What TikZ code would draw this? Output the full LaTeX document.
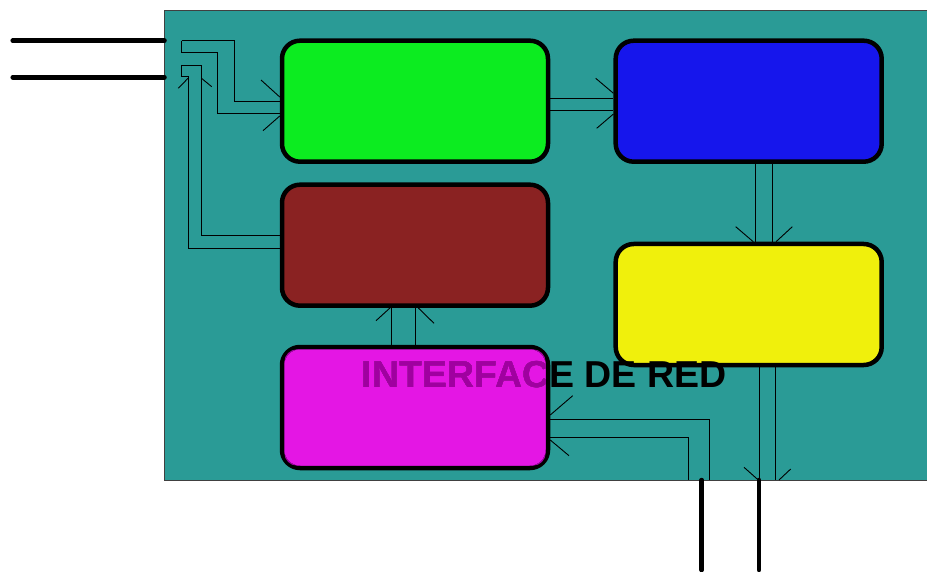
\documentclass[tikz,border=0pt]{standalone}
\usepackage{fontspec}
\newfontfamily\netfont{Liberation Sans}
\usetikzlibrary{calc}

\definecolor{netbg}{RGB}{42,155,150}
\definecolor{netgreen}{RGB}{12,236,32}
\definecolor{netblue}{RGB}{22,22,236}
\definecolor{netbrown}{RGB}{138,34,34}
\definecolor{netyellow}{RGB}{240,240,12}
\definecolor{netmagenta}{RGB}{228,22,228}
\definecolor{netpurple}{RGB}{160,0,160}

\begin{document}
\begin{tikzpicture}[x=1pt,y=-1pt,
    box/.style={draw=black, line width=4.5pt, rounded corners=18pt,
      minimum width=266pt, minimum height=121pt, inner sep=0pt},
    bus/.style={black, line width=0.9pt},
    barb/.style={black, line width=0.9pt},
    feed/.style={black, line width=4.5pt, line cap=round}]
      \useasboundingbox (0,0) rectangle (927,572);

      % tarjeta
      \fill [netbg] (164.5,10) rectangle (930,480);
      \draw [black!75, line width=0.8pt] (930,10) -- (164.5,10) -- (164.5,480) -- (930,480);

      % bloques
      \node [box, fill=netgreen] (green) at (415,101.2) {};
      \node [box, fill=netblue] (blue) at (748.7,101.2) {};
      \node [box, fill=netbrown] (brown) at (415,245.2) {};
      \node [box, fill=netyellow] (yellow) at (748.7,304.5) {};
      \node [box, fill=netmagenta] (magenta) at (415,407.5) {};

      % puertos
      \coordinate (portA) at (181.7,40.7);
      \coordinate (portB) at (181.7,65);
      \coordinate (in1) at (164.5,40.7);
      \coordinate (in2) at (164.5,77.3);
      \coordinate (out1) at (701.7,480);
      \coordinate (out2) at (759,480);

      % entrada -> verde
      \draw [bus] (portA) -- (234,40.7) -- (234,101) -- (green.west |- 0,101);
      \draw [bus] (portA) -- (181.7,52.3) -- (217.3,52.3) -- (217.3,113.7) -- (green.west |- 0,113.7);
      \draw [barb] (261,80) -- (green.west |- 0,97);
      \draw [barb] (263,130.7) -- (green.west |- 0,116);

      % marron -> entrada
      \draw [bus] (portB) -- (201.5,65) -- (201.5,235.7) -- (brown.west |- 0,235.7);
      \draw [bus] (portB) -- (181.7,76.7) -- (188,76.7) -- (188,248.3) -- (brown.west |- 0,248.3);
      \draw [barb] (178.3,88.3) -- (188,78.3);
      \draw [barb] (211.7,86.7) -- (201.5,78.3);

      % verde -> azul
      \draw [bus] (green.east |- 0,98.3) -- (blue.west |- 0,98.3);
      \draw [bus] (green.east |- 0,110.7) -- (blue.west |- 0,110.7);
      \draw [barb] (595.7,78.3) -- (blue.west |- 0,93.3);
      \draw [barb] (596.7,128.3) -- (blue.west |- 0,114);

      % azul -> amarillo
      \draw [bus] (blue.south -| 755.7,0) -- (yellow.north -| 755.7,0);
      \draw [bus] (blue.south -| 772.3,0) -- (yellow.north -| 772.3,0);
      \draw [barb] (735.7,226.7) -- (yellow.north -| 753.3,0);
      \draw [barb] (792.3,226.7) -- (yellow.north -| 776,0);

      % magenta -> marron
      \draw [bus] (brown.south -| 391.7,0) -- (magenta.north -| 391.7,0);
      \draw [bus] (brown.south -| 415,0) -- (magenta.north -| 415,0);
      \draw [barb] (376,320.7) -- (brown.south -| 390,0);
      \draw [barb] (434,323.3) -- (brown.south -| 418.3,0);

      % salida -> magenta
      \draw [bus] (magenta.east |- 0,419.3) -- (709,419.3) -- (709,480);
      \draw [bus] (magenta.east |- 0,437.3) -- (688.3,437.3) -- (688.3,480);
      \draw [barb] (572.7,395.7) -- (magenta.east |- 0,415);
      \draw [barb] (569,455.7) -- (magenta.east |- 0,440);

      % amarillo -> salida
      \draw [bus] (yellow.south -| 759,0) -- (759,480);
      \draw [bus] (yellow.south -| 775.7,0) -- (775.7,480);
      \draw [barb] (744,467.3) -- (758.3,480);
      \draw [barb] (790.7,469) -- (779,480);

      % cables
      \draw [feed] (12.7,40.7) -- (in1);
      \draw [feed] (12.7,77.3) -- (in2);
      \draw [feed] (out1) -- (701.7,570);
      \draw [feed] (out2) -- (759,570);

      \node [font=\netfont\bfseries\fontsize{37.5}{40}\selectfont, anchor=base, inner sep=0pt]
        (title) at (544.2,387) {INTERFACE DE RED};

      % texto visto a traves del bloque magenta
      \begin{scope}[blend mode=lighten]
        \fill [netpurple, rounded corners=13pt]
          ([shift={(4.5,4.5)}]magenta.north west) rectangle ([shift={(-4.5,-4.5)}]magenta.south east);
      \end{scope}

  \end{tikzpicture}
\end{document}
